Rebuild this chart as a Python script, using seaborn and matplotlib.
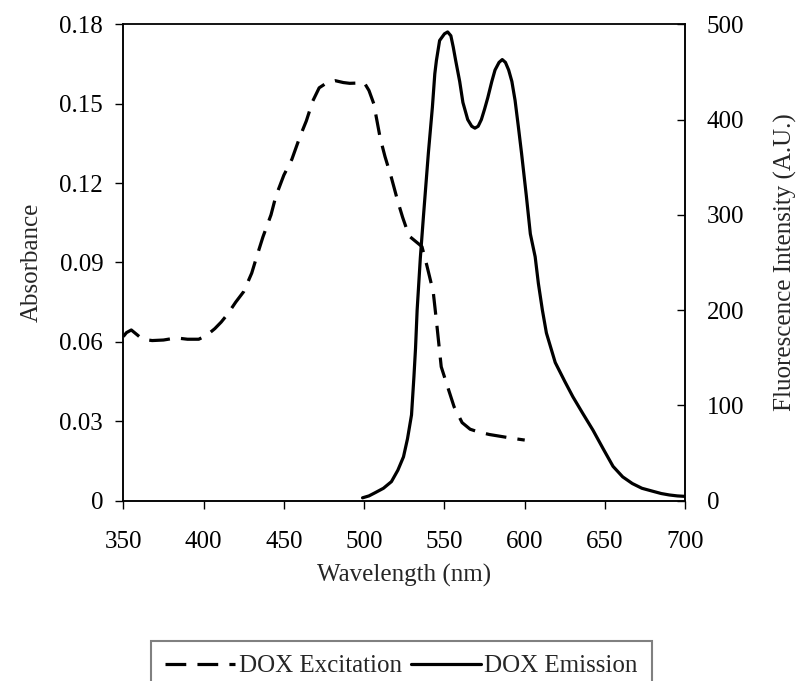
import matplotlib
matplotlib.use("Agg")
import matplotlib.pyplot as plt
import seaborn as sns
import pandas as pd

# ---- data ----
exc_wavelength = [350, 352, 355, 358, 362, 368, 375, 383, 390, 397, 402, 407, 411, 415,
                  420, 425, 430, 433, 437, 442, 445, 450, 455, 460, 464, 468, 472, 477,
                  482, 487, 491, 496, 500, 503, 506, 510, 513, 517, 521, 524, 528, 532,
                  536, 539, 543, 545, 548, 552, 556, 561, 566, 571, 578, 586, 593, 600]
exc_absorbance = [0.062, 0.0635, 0.0645, 0.063, 0.061, 0.0605, 0.0607, 0.0615, 0.061, 0.061,
                  0.0625, 0.065, 0.0675, 0.0705, 0.075, 0.079, 0.086, 0.092, 0.0997, 0.108,
                  0.115, 0.123, 0.129, 0.1375, 0.1435, 0.151, 0.156, 0.158, 0.1587, 0.158,
                  0.1577, 0.1578, 0.158, 0.155, 0.150, 0.137, 0.130, 0.122, 0.113, 0.107,
                  0.100, 0.098, 0.096, 0.089, 0.079, 0.068, 0.0506, 0.043, 0.0355, 0.0295,
                  0.027, 0.026, 0.025, 0.0242, 0.0235, 0.0229]

em_wavelength = [499, 503, 507, 512, 517, 521, 524.5, 527, 529.5, 531, 532, 533, 535, 537,
                 540, 542.5, 544, 545, 547, 550, 552, 554, 555.5, 557, 559.5, 561.5, 564.5,
                 567, 569, 571, 573, 575, 577, 579.5, 581.5, 584, 586, 588, 590, 592, 594,
                 596, 598, 601, 603.5, 606.5, 608.5, 611, 613.5, 619, 625, 630, 636, 642.5,
                 649, 655, 661, 667, 673, 679.5, 685, 690, 695, 700]
em_intensity = [3, 5, 8.5, 13, 20, 32, 46, 65, 90, 130, 160, 200, 255, 300,
                365, 413, 448, 462, 483, 490, 492, 488, 476, 462, 440, 418, 400,
                393, 391, 393, 400, 411, 423, 440, 452, 460, 463, 460, 452, 440, 420,
                393, 365, 320, 280, 256, 228, 200, 176, 145, 125, 109, 92, 74,
                54, 36, 25, 18, 13, 10, 7.5, 6, 5, 4.5]

x_ticks = [350, 400, 450, 500, 550, 600, 650, 700]
left_ticks = [0, 0.03, 0.06, 0.09, 0.12, 0.15, 0.18]
left_ticklabels = ["0", "0.03", "0.06", "0.09", "0.12", "0.15", "0.18"]
right_ticks = [0, 100, 200, 300, 400, 500]

exc_df = pd.DataFrame({"wl": exc_wavelength, "val": exc_absorbance})
em_df = pd.DataFrame({"wl": em_wavelength, "val": em_intensity})

# ---- style ----
sns.set_style("ticks")
plt.rcParams["font.family"] = ["Liberation Serif", "DejaVu Serif"]
FS = 18

fig = plt.figure(figsize=(8.02, 6.81), dpi=100)
ax = fig.add_axes([0.1537, 0.2648, 0.7008, 0.6995])
ax2 = ax.twinx()

lw = 2.3
sns.lineplot(data=exc_df, x="wl", y="val", ax=ax, color="black", linewidth=lw,
             estimator=None, sort=False, label="DOX Excitation")
ax.lines[0].set_dashes((6.5, 3.5))
sns.lineplot(data=em_df, x="wl", y="val", ax=ax2, color="black", linewidth=lw,
             estimator=None, sort=False, label="DOX Emission")

ax.set_xlim(350, 700)
ax.set_ylim(0, 0.18)
ax2.set_ylim(0, 500)
ax.set_xticks(x_ticks)
ax.set_xticklabels([str(t) for t in x_ticks], fontsize=FS)
ax.set_yticks(left_ticks)
ax.set_yticklabels(left_ticklabels, fontsize=FS)
ax2.set_yticks(right_ticks)
ax2.set_yticklabels([str(t) for t in right_ticks], fontsize=FS)

ax.tick_params(axis="x", direction="out", length=6, width=1, pad=16, colors="black")
ax.tick_params(axis="y", direction="out", length=6, width=1, pad=8.5, colors="black")
ax2.tick_params(axis="y", direction="in", length=6, width=1, pad=15.5, colors="black")

for a in (ax, ax2):
    for s in a.spines.values():
        s.set_visible(True)
        s.set_color("black")
        s.set_linewidth(1.1)
ax.spines["top"].set_color("#404040")

ax.set_xlabel("Wavelength (nm)", fontsize=FS, labelpad=8)
ax.set_ylabel("Absorbance", fontsize=FS, labelpad=12)
ax2.set_ylabel("Fluorescence Intensity (A.U.)", fontsize=FS, rotation=90, labelpad=21)

h1, l1 = ax.get_legend_handles_labels()
h2, l2 = ax2.get_legend_handles_labels()
if ax.get_legend():
    ax.get_legend().remove()
if ax2.get_legend():
    ax2.get_legend().remove()
leg = fig.legend(h1 + h2, l1 + l2, loc="upper center", bbox_to_anchor=(0.5006, 0.0587),
                 bbox_transform=fig.transFigure, ncol=2, fontsize=FS, frameon=True,
                 fancybox=False, edgecolor="#808080", framealpha=1, borderaxespad=0,
                 handlelength=2.8, handletextpad=0.15, columnspacing=0.35, borderpad=0.55)
leg.get_frame().set_linewidth(1.5)

fig.savefig("out.png", dpi=100)
